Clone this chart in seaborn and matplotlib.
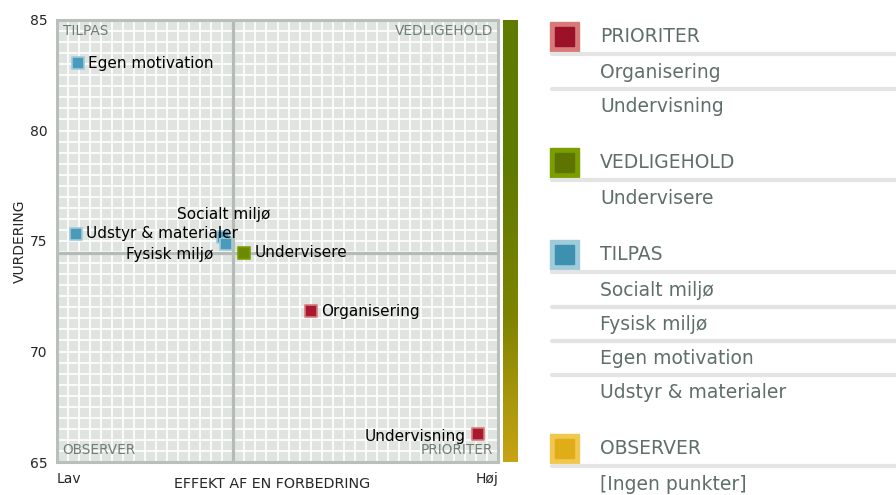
import numpy as np
import pandas as pd
import matplotlib
matplotlib.use("Agg")
import matplotlib.pyplot as plt
import seaborn as sns
from matplotlib.colors import LinearSegmentedColormap
from matplotlib.patches import Rectangle

# data (x: 0 = Lav, 100 = Høj)
names = ["Egen motivation", "Udstyr & materialer", "Socialt miljø", "Fysisk miljø",
         "Undervisere", "Organisering", "Undervisning"]
effekt = [4.8, 4.3, 37.6, 38.3, 42.4, 57.6, 95.5]
vurdering = [83.05, 75.32, 75.18, 74.86, 74.46, 71.83, 66.27]
gruppe = ["TILPAS", "TILPAS", "TILPAS", "TILPAS", "VEDLIGEHOLD", "PRIORITER", "PRIORITER"]

x_mid = 40
y_mid = 74.45
y_ticks = [65, 70, 75, 80, 85]

legend_groups = ["PRIORITER", "VEDLIGEHOLD", "TILPAS", "OBSERVER"]
legend_items = [["Organisering", "Undervisning"], ["Undervisere"],
                ["Socialt miljø", "Fysisk miljø", "Egen motivation", "Udstyr & materialer"],
                ["[Ingen punkter]"]]

inner = {"PRIORITER": "#9b1128", "VEDLIGEHOLD": "#5e7400", "TILPAS": "#3d90b0", "OBSERVER": "#e0ac18"}
outer = {"PRIORITER": "#d97a7a", "VEDLIGEHOLD": "#7a9e00", "TILPAS": "#a0cbdb", "OBSERVER": "#f0c850"}
dot = {"PRIORITER": "#a8182f", "VEDLIGEHOLD": "#6b8a00", "TILPAS": "#4a9abb"}

df = pd.DataFrame({"navn": names, "effekt": effekt, "vurdering": vurdering, "gruppe": gruppe})

sns.set_style("white")
plt.rcParams["font.family"] = ["DejaVu Sans"]

W, H = 896, 495
fig = plt.figure(figsize=(W / 100, H / 100), dpi=100)
ax = fig.add_axes([57 / W, 1 - 462 / H, 441 / W, 442 / H])
ax.set_facecolor("#dfe4e1")
ax.set_xlim(0, 100)
ax.set_ylim(65, 85)
for v in np.arange(2.5, 100, 2.5):
    ax.axvline(v, color="white", lw=1.2, zorder=0)
for v in np.arange(65.5, 85, 0.5):
    ax.axhline(v, color="white", lw=1.2, zorder=0)
ax.axvline(x_mid, color="#b5bcb8", lw=2.3, zorder=1)
ax.axhline(y_mid, color="#b5bcb8", lw=2.3, zorder=1)
for s in ax.spines.values():
    s.set_color("#b9c0bc")
    s.set_linewidth(2.2)

for g in ["TILPAS", "VEDLIGEHOLD", "PRIORITER"]:
    sub = df[df.gruppe == g]
    sns.scatterplot(data=sub, x="effekt", y="vurdering", marker="s", s=64,
                    color=dot[g], edgecolor=outer[g], linewidth=1.2, ax=ax, zorder=3, legend=False)

lab_kw = dict(fontsize=11, color="black", va="center", zorder=4)
offsets = {"Egen motivation": ("left", 2.2, 0), "Udstyr & materialer": ("left", 2.2, 0),
           "Socialt miljø": ("center", 0.3, 1.0), "Fysisk miljø": ("right", -2.8, -0.45),
           "Undervisere": ("left", 2.4, 0), "Organisering": ("left", 2.4, 0),
           "Undervisning": ("right", -2.8, -0.1)}
for _, r in df.iterrows():
    ha, dx, dy = offsets[r.navn]
    ax.text(r.effekt + dx, r.vurdering + dy, r.navn, ha=ha, **lab_kw)

q_kw = dict(fontsize=9.8, color="#6f7d76", zorder=4)
ax.text(1.3, 84.5, "TILPAS", ha="left", va="center", **q_kw)
ax.text(98.9, 84.5, "VEDLIGEHOLD", ha="right", va="center", **q_kw)
ax.text(1.3, 65.55, "OBSERVER", ha="left", va="center", **q_kw)
ax.text(98.9, 65.55, "PRIORITER", ha="right", va="center", **q_kw)

ax.set_yticks(y_ticks)
ax.set_yticklabels([str(t) for t in y_ticks], fontsize=10)
ax.set_xticks([])
ax.tick_params(axis="y", length=0, pad=7)
ax.set_ylabel("VURDERING", fontsize=10, labelpad=2)
ax.set_xlabel("")
fig.text(272 / W, 1 - 484 / H, "EFFEKT AF EN FORBEDRING", ha="center", va="center", fontsize=10.3)
fig.text(57 / W, 1 - 479 / H, "Lav", ha="left", va="center", fontsize=10)
fig.text(498 / W, 1 - 479 / H, "Høj", ha="right", va="center", fontsize=10)

# gradient bar
bar = fig.add_axes([503 / W, 1 - 462 / H, 15 / W, 442 / H])
cmap = LinearSegmentedColormap.from_list("g", ["#c8a414", "#7d8300", "#5f7a00", "#5f7a00"])
bar.imshow(np.linspace(0, 1, 256)[::-1].reshape(-1, 1), aspect="auto", cmap=cmap)
bar.axis("off")

# legend panel
lg = fig.add_axes([0, 0, 1, 1])
lg.set_xlim(0, W)
lg.set_ylim(H, 0)
lg.axis("off")
y = 36
for g, items in zip(legend_groups, legend_items):
    lg.add_patch(Rectangle((550, y - 14), 29, 29, color=outer[g]))
    lg.add_patch(Rectangle((555, y - 9), 19, 19, color=inner[g]))
    lg.text(600, y, g, fontsize=13.5, color="#5f6f68", va="center")
    lg.plot([552, 896], [y + 18, y + 18], color="#e4e4e4", lw=3)
    y += 36
    for i, it in enumerate(items):
        lg.text(600, y, it, fontsize=13.5, color="#5f6f68", va="center")
        if i < len(items) - 1:
            lg.plot([552, 896], [y + 17, y + 17], color="#e4e4e4", lw=3)
            y += 34
    y += 56

fig.savefig("out.png", dpi=100)
